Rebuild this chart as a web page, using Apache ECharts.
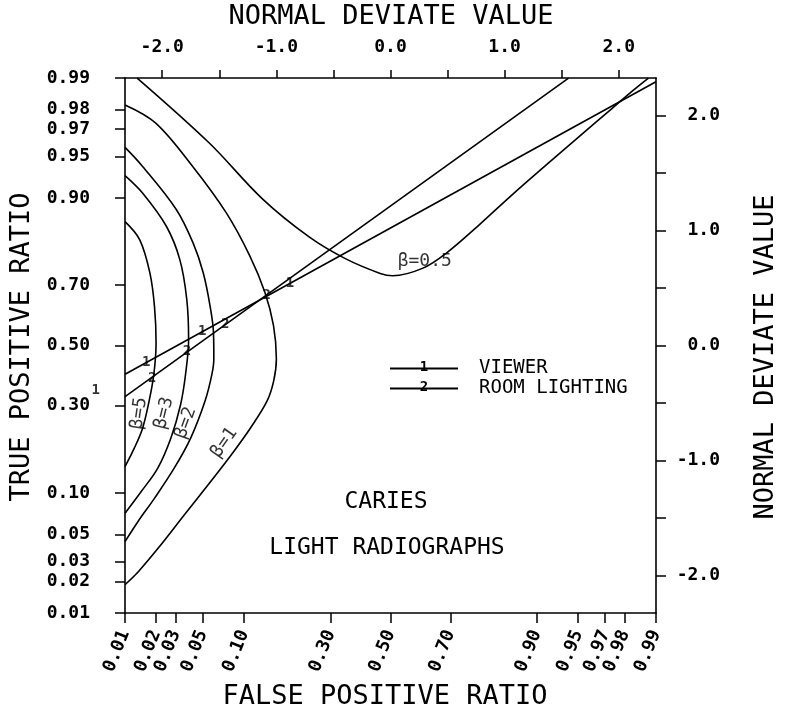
<!DOCTYPE html>
<html>
<head>
<meta charset="utf-8">
<script src="https://cdn.jsdelivr.net/npm/echarts@6/dist/echarts.min.js"></script>
<style>html,body{margin:0;padding:0;background:#fff}#c{width:786px;height:716px}</style>
</head>
<body>
<div id="c"></div>
<script>
// ---- data (normal deviate coordinates) ----
var probTicks = [0.01, 0.02, 0.03, 0.05, 0.10, 0.30, 0.50, 0.70, 0.90, 0.95, 0.97, 0.98, 0.99];
var probLabels = ['0.01', '0.02', '0.03', '0.05', '0.10', '0.30', '0.50', '0.70', '0.90', '0.95', '0.97', '0.98', '0.99'];
var devTicks = [-2.0, -1.5, -1.0, -0.5, 0.0, 0.5, 1.0, 1.5, 2.0];
var devLabels = [-2.0, -1.0, 0.0, 1.0, 2.0];

var beta05 = [[-2.22,2.326],[-1.59,1.763],[-1.12,1.273],[-0.71,0.942],[-0.40,0.758],[-0.09,0.627],[0.02,0.607],[0.285,0.673],[0.49,0.804],[0.78,1.052],[1.07,1.315],[1.36,1.567],[1.65,1.815],[1.94,2.060],[2.115,2.210],[2.26,2.326]];
var beta1 = [[-2.326,2.092],[-2.057,1.934],[-1.735,1.559],[-1.440,1.155],[-1.233,0.780],[-1.100,0.461],[-1.025,0.172],[-1.000,-0.117],[-1.023,-0.306],[-1.080,-0.480],[-1.224,-0.713],[-1.370,-0.917],[-1.572,-1.179],[-1.804,-1.470],[-2.035,-1.762],[-2.208,-1.965],[-2.326,-2.080]];
var beta2 = [[-2.326,1.723],[-2.172,1.557],[-1.877,1.183],[-1.730,0.892],[-1.641,0.632],[-1.581,0.343],[-1.551,0.110],[-1.548,-0.118],[-1.565,-0.251],[-1.625,-0.483],[-1.750,-0.803],[-1.894,-1.065],[-2.067,-1.327],[-2.212,-1.530],[-2.326,-1.705]];
var beta3 = [[-2.326,1.477],[-2.171,1.324],[-1.964,1.037],[-1.846,0.747],[-1.785,0.400],[-1.769,0.052],[-1.796,-0.252],[-1.839,-0.513],[-1.924,-0.804],[-2.039,-1.066],[-2.184,-1.270],[-2.326,-1.459]];
var beta5 = [[-2.326,1.077],[-2.197,0.919],[-2.108,0.630],[-2.068,0.340],[-2.054,0.021],[-2.074,-0.254],[-2.116,-0.487],[-2.172,-0.719],[-2.245,-0.893],[-2.326,-1.053]];

var viewerLine = [[-2.326,-0.250],[2.326,2.294]];
var viewerPoints = [[-2.140,-0.148],[-1.650,0.120],[-0.882,0.540]];
var viewerOutside = [[-2.583,-0.390],[-2.326,-0.250]];
var roomLine = [[-2.326,-0.444],[1.560,2.326]];
var roomPoints = [[-2.088,-0.283],[-1.783,-0.047],[-1.448,0.184],[-1.085,0.437]];

var betaNames = ['β=0.5','β=1','β=2','β=3','β=5'];
var betaLabelPos = [[0.30,0.728],[-1.457,-0.845],[-1.793,-0.674],[-1.984,-0.588],[-2.203,-0.590]];
var betaLabelRot = [0, 55, 70, 76, 82];

// ---- probit scale helper ----
function probit(p){
  var a=[-3.969683028665376e+01,2.209460984245205e+02,-2.759285104469687e+02,1.383577518672690e+02,-3.066479806614716e+01,2.506628277459239e+00];
  var b=[-5.447609879822406e+01,1.615858368580409e+02,-1.556989798598866e+02,6.680131188771972e+01,-1.328068155288572e+01];
  var c=[-7.784894002430293e-03,-3.223964580411365e-01,-2.400758277161838e+00,-2.549732539343734e+00,4.374664141464968e+00,2.938163982698783e+00];
  var d=[7.784695709041462e-03,3.224671290700398e-01,2.445134137142996e+00,3.754408661907416e+00];
  var pl=0.02425, ph=1-pl, q, r;
  if(p<pl){q=Math.sqrt(-2*Math.log(p));return (((((c[0]*q+c[1])*q+c[2])*q+c[3])*q+c[4])*q+c[5])/((((d[0]*q+d[1])*q+d[2])*q+d[3])*q+1);}
  if(p<=ph){q=p-0.5;r=q*q;return (((((a[0]*r+a[1])*r+a[2])*r+a[3])*r+a[4])*r+a[5])*q/(((((b[0]*r+b[1])*r+b[2])*r+b[3])*r+b[4])*r+1);}
  q=Math.sqrt(-2*Math.log(1-p));return -(((((c[0]*q+c[1])*q+c[2])*q+c[3])*q+c[4])*q+c[5])/((((d[0]*q+d[1])*q+d[2])*q+d[3])*q+1);
}
var probZ = probTicks.map(probit);
var zMin = probit(0.01), zMax = probit(0.99);
function probLabel(v){
  var best=0, bd=1e9;
  for(var i=0;i<probZ.length;i++){var dd=Math.abs(probZ[i]-v); if(dd<bd){bd=dd;best=i;}}
  return probLabels[best];
}

var MONO = '"DejaVu Sans Mono", monospace';
var BLK = '#000';
var tickLab = {color:BLK, fontFamily:MONO, fontWeight:'bold', fontSize:18};
var axLine = {show:true, onZero:false, lineStyle:{color:BLK, width:1.6}};

function curve(name, data){
  return {name:name, type:'line', data:data, smooth:0.35, symbol:'none', color:BLK, lineStyle:{color:BLK, width:1.6}, silent:true, z:3};
}
function digits(name, data, txt){
  return {name:name, type:'scatter', data:data, symbolSize:1, clip:false, itemStyle:{color:'rgba(0,0,0,0)'},
    label:{show:true, position:'inside', formatter:txt, color:BLK, fontFamily:MONO, fontWeight:'bold', fontSize:14}, z:5};
}

var chart = echarts.init(document.getElementById('c'), null, {renderer:'canvas'});
chart.setOption({
  animation:false,
  backgroundColor:'#fff',
  grid:{left:125, right:130, top:78, bottom:103, containLabel:false},
  xAxis:[
    {type:'value', position:'bottom', min:zMin, max:zMax, splitLine:{show:false}, axisLine:axLine,
     axisTick:{show:true, customValues:probZ, length:10, lineStyle:{color:BLK, width:1.5}},
     axisLabel:Object.assign({customValues:probZ, formatter:probLabel, rotate:68, margin:18}, tickLab)},
    {type:'value', position:'top', min:zMin, max:zMax, splitLine:{show:false}, axisLine:axLine,
     axisTick:{show:true, customValues:devTicks, length:8, lineStyle:{color:BLK, width:1.5}},
     axisLabel:Object.assign({customValues:devLabels, formatter:function(v){return v.toFixed(1);}, margin:22}, tickLab)}
  ],
  yAxis:[
    {type:'value', position:'left', min:zMin, max:zMax, splitLine:{show:false}, axisLine:axLine,
     axisTick:{show:true, customValues:probZ, length:10, lineStyle:{color:BLK, width:1.5}},
     axisLabel:Object.assign({customValues:probZ, formatter:probLabel, margin:35}, tickLab)},
    {type:'value', position:'right', min:zMin, max:zMax, splitLine:{show:false}, axisLine:axLine,
     axisTick:{show:true, customValues:devTicks, length:10, lineStyle:{color:BLK, width:1.5}},
     axisLabel:Object.assign({customValues:devLabels, formatter:function(v){return v.toFixed(1);}, margin:64, align:'right'}, tickLab)}
  ],
  legend:{show:true, orient:'vertical', left:390, top:359, padding:0, itemWidth:68, itemHeight:2, itemGap:1,
    data:[{name:'VIEWER', icon:'rect'},{name:'ROOM LIGHTING', icon:'rect'}], selectedMode:false,
    itemStyle:{color:BLK, borderWidth:0},
    textStyle:{color:BLK, fontFamily:MONO, fontSize:19, lineHeight:19, padding:[0,0,0,16]}},
  graphic:[
    {type:'text', x:391, y:17, style:{text:'NORMAL DEVIATE VALUE', font:'27px '+MONO, fill:BLK, align:'center', verticalAlign:'middle'}},
    {type:'text', x:385, y:697, style:{text:'FALSE POSITIVE RATIO', font:'27px '+MONO, fill:BLK, align:'center', verticalAlign:'middle'}},
    {type:'text', x:22, y:347, rotation:Math.PI/2, style:{text:'TRUE POSITIVE RATIO', font:'27px '+MONO, fill:BLK, align:'center', verticalAlign:'middle'}},
    {type:'text', x:766, y:357, rotation:Math.PI/2, style:{text:'NORMAL DEVIATE VALUE', font:'27px '+MONO, fill:BLK, align:'center', verticalAlign:'middle'}},
    {type:'text', x:386, y:502, style:{text:'CARIES', font:'23px '+MONO, fill:BLK, align:'center', verticalAlign:'middle'}},
    {type:'text', x:387, y:548, style:{text:'LIGHT RADIOGRAPHS', font:'23px '+MONO, fill:BLK, align:'center', verticalAlign:'middle'}},
    {type:'text', x:424, y:367, style:{text:'1', font:'bold 14px '+MONO, fill:BLK, align:'center', verticalAlign:'middle'}},
    {type:'text', x:424, y:387, style:{text:'2', font:'bold 14px '+MONO, fill:BLK, align:'center', verticalAlign:'middle'}}
  ],
  series:[
    curve('β=0.5', beta05), curve('β=1', beta1), curve('β=2', beta2), curve('β=3', beta3), curve('β=5', beta5),
    {name:'VIEWER', type:'line', data:viewerLine, symbol:'none', color:BLK, lineStyle:{color:BLK, width:1.6}, z:4},
    {name:'ROOM LIGHTING', type:'line', data:roomLine, symbol:'none', color:BLK, lineStyle:{color:BLK, width:1.6}, z:4},
    {name:'viewer-extrap', type:'line', data:viewerOutside, symbol:'none', clip:false, color:BLK, lineStyle:{color:BLK, width:1.3, type:[2,4]}},
    digits('viewer-pts', viewerPoints.concat([viewerOutside[0]]), '1'),
    digits('room-pts', roomPoints, '2'),
    {name:'beta-labels', type:'scatter', symbolSize:1, itemStyle:{color:'rgba(0,0,0,0)'},
     data:betaLabelPos.map(function(p,i){return {value:p, label:{formatter:betaNames[i], rotate:betaLabelRot[i]}};}),
     label:{show:true, position:'inside', color:BLK, fontFamily:MONO, fontSize:18}, z:5}
  ]
});
</script>
</body>
</html>
